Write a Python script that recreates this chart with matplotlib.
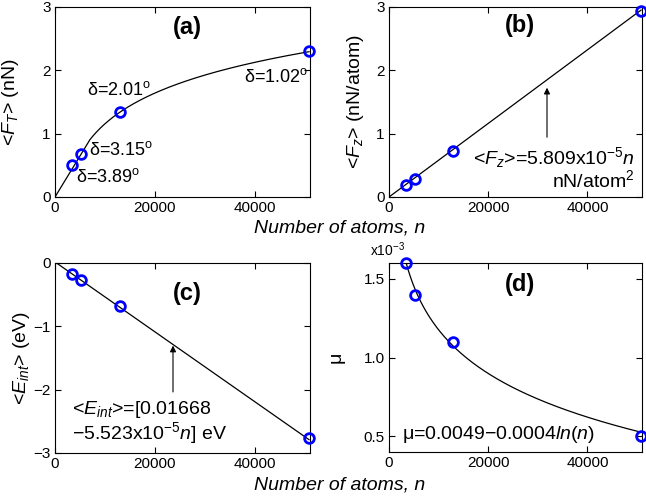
import numpy as np
import matplotlib
matplotlib.use('Agg')
import matplotlib.pyplot as plt
from matplotlib.ticker import FuncFormatter

matplotlib.rcParams['font.family'] = 'Liberation Sans'
matplotlib.rcParams['mathtext.fontset'] = 'custom'
matplotlib.rcParams['mathtext.rm'] = 'Liberation Sans'
matplotlib.rcParams['mathtext.it'] = 'Liberation Sans:italic'
matplotlib.rcParams['mathtext.bf'] = 'Liberation Sans:bold'

# data
n_atoms = [3400, 5200, 13000, 50800]
F_T = [0.50, 0.68, 1.35, 2.30]
F_z = [0.19, 0.29, 0.73, 2.93]
E_int = [-0.17, -0.27, -0.68, -2.76]
mu = [1.60e-3, 1.40e-3, 1.10e-3, 0.50e-3]
delta_labels = ['3.89', '3.15', '2.01', '1.02']

# fitted curves
ft_slope = 0.1296e-3      # linear part of <F_T>
ft_log_a, ft_log_b, ft_log_n0 = 1.337, 0.70, 12940.0
fz_slope = 5.809e-5
e_a, e_b = 0.01668, -5.523e-5
mu_a, mu_b = 4.86e-3, 0.4e-3

xmax = 51000
blue = '#0000ff'

fig = plt.figure(figsize=(6.46, 5.0), dpi=100)
axa = fig.add_axes([55/646, 1-197/500, 255/646, 190/500])
axb = fig.add_axes([389/646, 1-197/500, 253/646, 190/500])
axc = fig.add_axes([55/646, 1-453/500, 255/646, 190/500])
axd = fig.add_axes([389/646, 1-452/500, 253/646, 189/500])

for ax in [axa, axb, axc, axd]:
    ax.set_xlim(0, xmax)
    ax.set_xticks([0, 20000, 40000])
    ax.tick_params(direction='in', top=True, right=True, length=4, width=0.8,
                   labelsize=11, pad=3)
    for s in ax.spines.values():
        s.set_linewidth(0.8)

mk = dict(marker='o', ls='none', mfc='none', mec=blue, mew=2, ms=7, clip_on=False, zorder=3)

# (a)
nn = np.linspace(0, max(n_atoms), 400)
lin = ft_slope * nn
lg = ft_log_a + ft_log_b * np.log(np.maximum(nn, 1) / ft_log_n0)
fa = np.where(nn < 7000, lin, lg)
axa.plot(nn, fa, 'k-', lw=0.9)
axa.plot(n_atoms, F_T, **mk)
axa.set_ylim(0, 3)
axa.set_yticks([0, 1, 2, 3])
axa.set_ylabel(r'<$\mathit{F_T}$> (nN)', fontsize=14)
axa.yaxis.set_label_coords(-0.133, 0.5)
axa.text(0.518, 0.89, '(a)', transform=axa.transAxes, ha='center', va='center',
         fontsize=17, fontweight='bold')
dpos = [(4200, 0.32, 'left'), (6800, 0.74, 'left'), (6400, 1.69, 'left'), (50600, 1.89, 'right')]
for (x, y, ha), d in zip(dpos, delta_labels):
    axa.text(x, y, 'δ=' + d + r'$^\mathrm{o}$', ha=ha, va='center', fontsize=13)

# (b)
axb.plot(nn, fz_slope * nn, 'k-', lw=0.9)
axb.plot(n_atoms, F_z, **mk)
axb.set_ylim(0, 3)
axb.set_yticks([0, 1, 2, 3])
axb.set_ylabel(r'<$\mathit{F_z}$> (nN/atom)', fontsize=14)
axb.yaxis.set_label_coords(-0.09, 0.5)
axb.text(0.518, 0.905, '(b)', transform=axb.transAxes, ha='center', va='center',
         fontsize=17, fontweight='bold')
axb.annotate('', xy=(31850, 1.77), xytext=(31850, 0.9),
             arrowprops=dict(arrowstyle='-|>', lw=0.8, color='k', mutation_scale=9))
axb.text(49600, 0.63, r'<$\mathit{F_z}$>=5.809x10$^{-5}$$\mathit{n}$', ha='right', va='center', fontsize=14)
axb.text(49600, 0.27, r'nN/atom$^2$', ha='right', va='center', fontsize=14)

# (c)
axc.plot(nn, e_a + e_b * nn, 'k-', lw=0.9)
axc.plot(n_atoms, E_int, **mk)
axc.set_ylim(-3, 0)
axc.set_yticks([-3, -2, -1, 0])
axc.set_ylabel(r'<$\mathit{E_{int}}$> (eV)', fontsize=14)
axc.yaxis.set_label_coords(-0.09, 0.5)
axc.text(0.518, 0.842, '(c)', transform=axc.transAxes, ha='center', va='center',
         fontsize=17, fontweight='bold')
axc.annotate('', xy=(23600, -1.26), xytext=(23600, -2.08),
             arrowprops=dict(arrowstyle='-|>', lw=0.8, color='k', mutation_scale=9))
axc.text(3400, -2.32, r'<$\mathit{E_{int}}$>=[0.01668', ha='left', va='center', fontsize=14)
axc.text(3400, -2.68, r'−5.523x10$^{-5}$$\mathit{n}$] eV', ha='left', va='center', fontsize=14)

# (d)
nd = np.linspace(min(n_atoms), max(n_atoms), 400)
axd.plot(nd, mu_a - mu_b * np.log(nd), 'k-', lw=0.9)
axd.plot(n_atoms, mu, **mk)
axd.set_ylim(0.4e-3, 1.6e-3)
axd.set_yticks([0.5e-3, 1.0e-3, 1.5e-3])
axd.yaxis.set_major_formatter(FuncFormatter(lambda v, p: '%.1f' % (v * 1e3)))
axd.text(-0.075, 1.069, r'x10$^{-3}$', transform=axd.transAxes, ha='left', va='center', fontsize=10)
axd.set_ylabel('μ', fontsize=14)
axd.yaxis.set_label_coords(-0.174, 0.5)
axd.text(0.518, 0.884, '(d)', transform=axd.transAxes, ha='center', va='center',
         fontsize=17, fontweight='bold')
axd.text(2620, 0.508e-3, r'μ=0.0049−0.0004$\mathit{ln}$($\mathit{n}$)', ha='left', va='center', fontsize=14)

fig.text(340/646, 1-228/500, 'Number of atoms, n', style='italic', ha='center', va='center', fontsize=14)
fig.text(340/646, 1-485/500, 'Number of atoms, n', style='italic', ha='center', va='center', fontsize=14)

plt.savefig('out.png', dpi=100)
